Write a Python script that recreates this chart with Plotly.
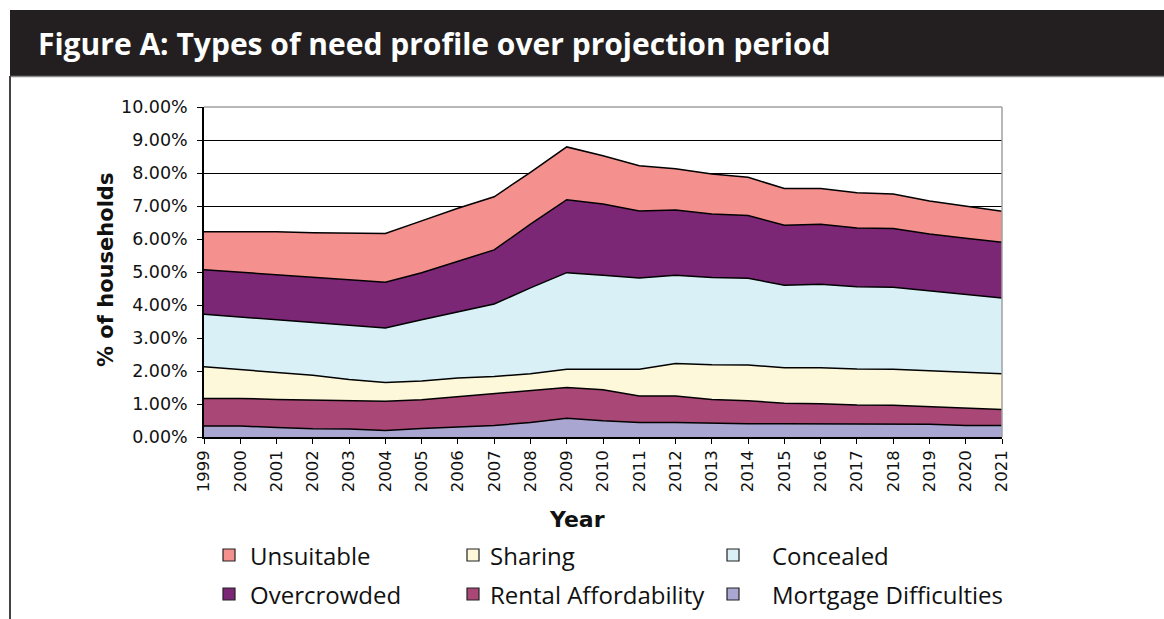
import plotly.graph_objects as go

years = list(range(1999, 2022))

# Individual (non-cumulative) shares of households, in percent
mortgage = [0.33, 0.33, 0.29, 0.25, 0.24, 0.20, 0.26, 0.30, 0.35, 0.44, 0.57, 0.49,
            0.44, 0.44, 0.41, 0.40, 0.40, 0.40, 0.40, 0.40, 0.39, 0.35, 0.35]
rental = [0.84, 0.84, 0.85, 0.87, 0.84, 0.88, 0.87, 0.92, 0.95, 0.96, 0.93, 0.94,
          0.80, 0.80, 0.73, 0.70, 0.62, 0.61, 0.57, 0.56, 0.53, 0.52, 0.48]
sharing = [0.96, 0.88, 0.82, 0.75, 0.66, 0.57, 0.57, 0.57, 0.53, 0.52, 0.55, 0.62,
           0.81, 0.99, 1.05, 1.08, 1.08, 1.09, 1.09, 1.09, 1.08, 1.09, 1.09]
concealed = [1.59, 1.59, 1.60, 1.60, 1.64, 1.65, 1.85, 1.99, 2.20, 2.60, 2.93, 2.85,
             2.77, 2.67, 2.64, 2.63, 2.50, 2.53, 2.49, 2.49, 2.43, 2.36, 2.29]
overcrowded = [1.35, 1.35, 1.35, 1.36, 1.39, 1.39, 1.43, 1.55, 1.64, 1.93, 2.21, 2.16,
               2.03, 1.98, 1.93, 1.90, 1.82, 1.82, 1.78, 1.78, 1.72, 1.70, 1.69]
unsuitable = [1.15, 1.24, 1.31, 1.36, 1.41, 1.48, 1.57, 1.60, 1.61, 1.57, 1.60, 1.46,
              1.37, 1.25, 1.21, 1.16, 1.11, 1.08, 1.07, 1.04, 1.00, 0.98, 0.94]

y_ticks = [0, 1, 2, 3, 4, 5, 6, 7, 8, 9, 10]

# stacking order bottom -> top
series = [
    ("Mortgage Difficulties", mortgage, "#A9A6D2"),
    ("Rental Affordability", rental, "#A94776"),
    ("Sharing", sharing, "#FDF8DA"),
    ("Concealed", concealed, "#D9F0F7"),
    ("Overcrowded", overcrowded, "#7B2776"),
    ("Unsuitable", unsuitable, "#F4908E"),
]

# legend layout (column, row) in the reference
legend_pos = {
    "Unsuitable": (0, 0), "Sharing": (1, 0), "Concealed": (2, 0),
    "Overcrowded": (0, 1), "Rental Affordability": (1, 1), "Mortgage Difficulties": (2, 1),
}

# pixel geometry of plot area
PL, PR, PT, PB = 204, 1002, 107, 437
W, H = 1164, 619
def px(x):
    return (x - PL) / (PR - PL)
def py(y):
    return (PB - y) / (PB - PT)

fig = go.Figure()
for name, vals, col in series:
    fig.add_trace(go.Scatter(
        x=years, y=vals, name=name, mode="lines", stackgroup="one",
        line=dict(color="black", width=1.5), fillcolor=col, showlegend=False,
        hovertemplate="%{x}: %{y:.2f}%<extra>" + name + "</extra>",
    ))

# legend entries drawn as a 3x2 grid
col_marker_x = [229, 473, 733]
col_text_x = [250, 490, 772]
row_y = [555, 594]
shapes = []
annotations = []
for name, vals, col in series:
    c, r = legend_pos[name]
    mx, my = col_marker_x[c], row_y[r]
    shapes.append(dict(type="rect", xref="paper", yref="paper",
                       x0=px(mx - 6), x1=px(mx + 6), y0=py(my + 6), y1=py(my - 6),
                       fillcolor=col, line=dict(color="#222", width=1.2)))
    annotations.append(dict(text=name, xref="paper", yref="paper",
                            x=px(col_text_x[c] - 2), y=py(my), xanchor="left", yanchor="middle",
                            showarrow=False,
                            font=dict(family="Open Sans", size=24, color="#111")))

# title bar
shapes.append(dict(type="rect", xref="paper", yref="paper", layer="below",
                   x0=px(10), x1=px(1170), y0=py(76), y1=py(10),
                   fillcolor="#231F20", line=dict(width=0)))
shapes.append(dict(type="line", xref="paper", yref="paper",
                   x0=px(10), x1=px(1170), y0=py(76.5), y1=py(76.5),
                   line=dict(color="#8a8a8a", width=1.5)))
# left frame line
shapes.append(dict(type="line", xref="paper", yref="paper",
                   x0=px(10), x1=px(10), y0=py(76), y1=py(625),
                   line=dict(color="#444", width=2)))
# gray top and right plot border
shapes.append(dict(type="line", xref="paper", yref="paper", layer="above",
                   x0=0, x1=1, y0=1, y1=1, line=dict(color="#a0a0a0", width=1.5)))
shapes.append(dict(type="line", xref="paper", yref="paper", layer="above",
                   x0=1, x1=1, y0=0, y1=1, line=dict(color="#a0a0a0", width=1.5)))

annotations.append(dict(text="<b>Figure A: Types of need profile over projection period</b>",
                        xref="paper", yref="paper", x=px(36), y=py(43),
                        xanchor="left", yanchor="middle", showarrow=False,
                        font=dict(family="Open Sans", size=30, color="white")))
annotations.append(dict(text="<b>Year</b>", xref="paper", yref="paper",
                        x=px(577), y=py(519), xanchor="center", yanchor="middle",
                        showarrow=False,
                        font=dict(family="DejaVu Sans", size=22, color="#111")))
annotations.append(dict(text="<b>% of households</b>", xref="paper", yref="paper",
                        x=px(106), y=py(270), xanchor="center", yanchor="middle",
                        textangle=-90, showarrow=False,
                        font=dict(family="DejaVu Sans", size=21, color="#111")))

fig.update_layout(
    width=W, height=H,
    margin=dict(l=PL, r=W - PR, t=PT, b=H - PB, pad=0),
    paper_bgcolor="white", plot_bgcolor="white",
    shapes=shapes, annotations=annotations,
    showlegend=False,
    xaxis=dict(range=[1999, 2021], tickmode="array", tickvals=years,
               ticktext=[str(y) for y in years], tickangle=-90,
               ticks="outside", ticklen=5, tickcolor="black", tickwidth=1.2,
               showline=True, linecolor="black", linewidth=1.5,
               showgrid=False, zeroline=False,
               tickfont=dict(family="DejaVu Sans", size=16.5, color="#111")),
    yaxis=dict(range=[0, 10], tickmode="array", tickvals=y_ticks,
               ticktext=[f"{v:.2f}%" for v in y_ticks],
               ticks="outside", ticklen=5, tickcolor="black", tickwidth=1.2,
               ticklabelstandoff=6,
               showline=True, linecolor="black", linewidth=1.5,
               showgrid=True, gridcolor="black", gridwidth=1.2, zeroline=False,
               tickfont=dict(family="DejaVu Sans", size=17.5, color="#111")),
)

fig.write_html("out.html", config={"displayModeBar": False},
               post_script="document.body.style.margin='0';document.body.style.overflow='hidden';")
